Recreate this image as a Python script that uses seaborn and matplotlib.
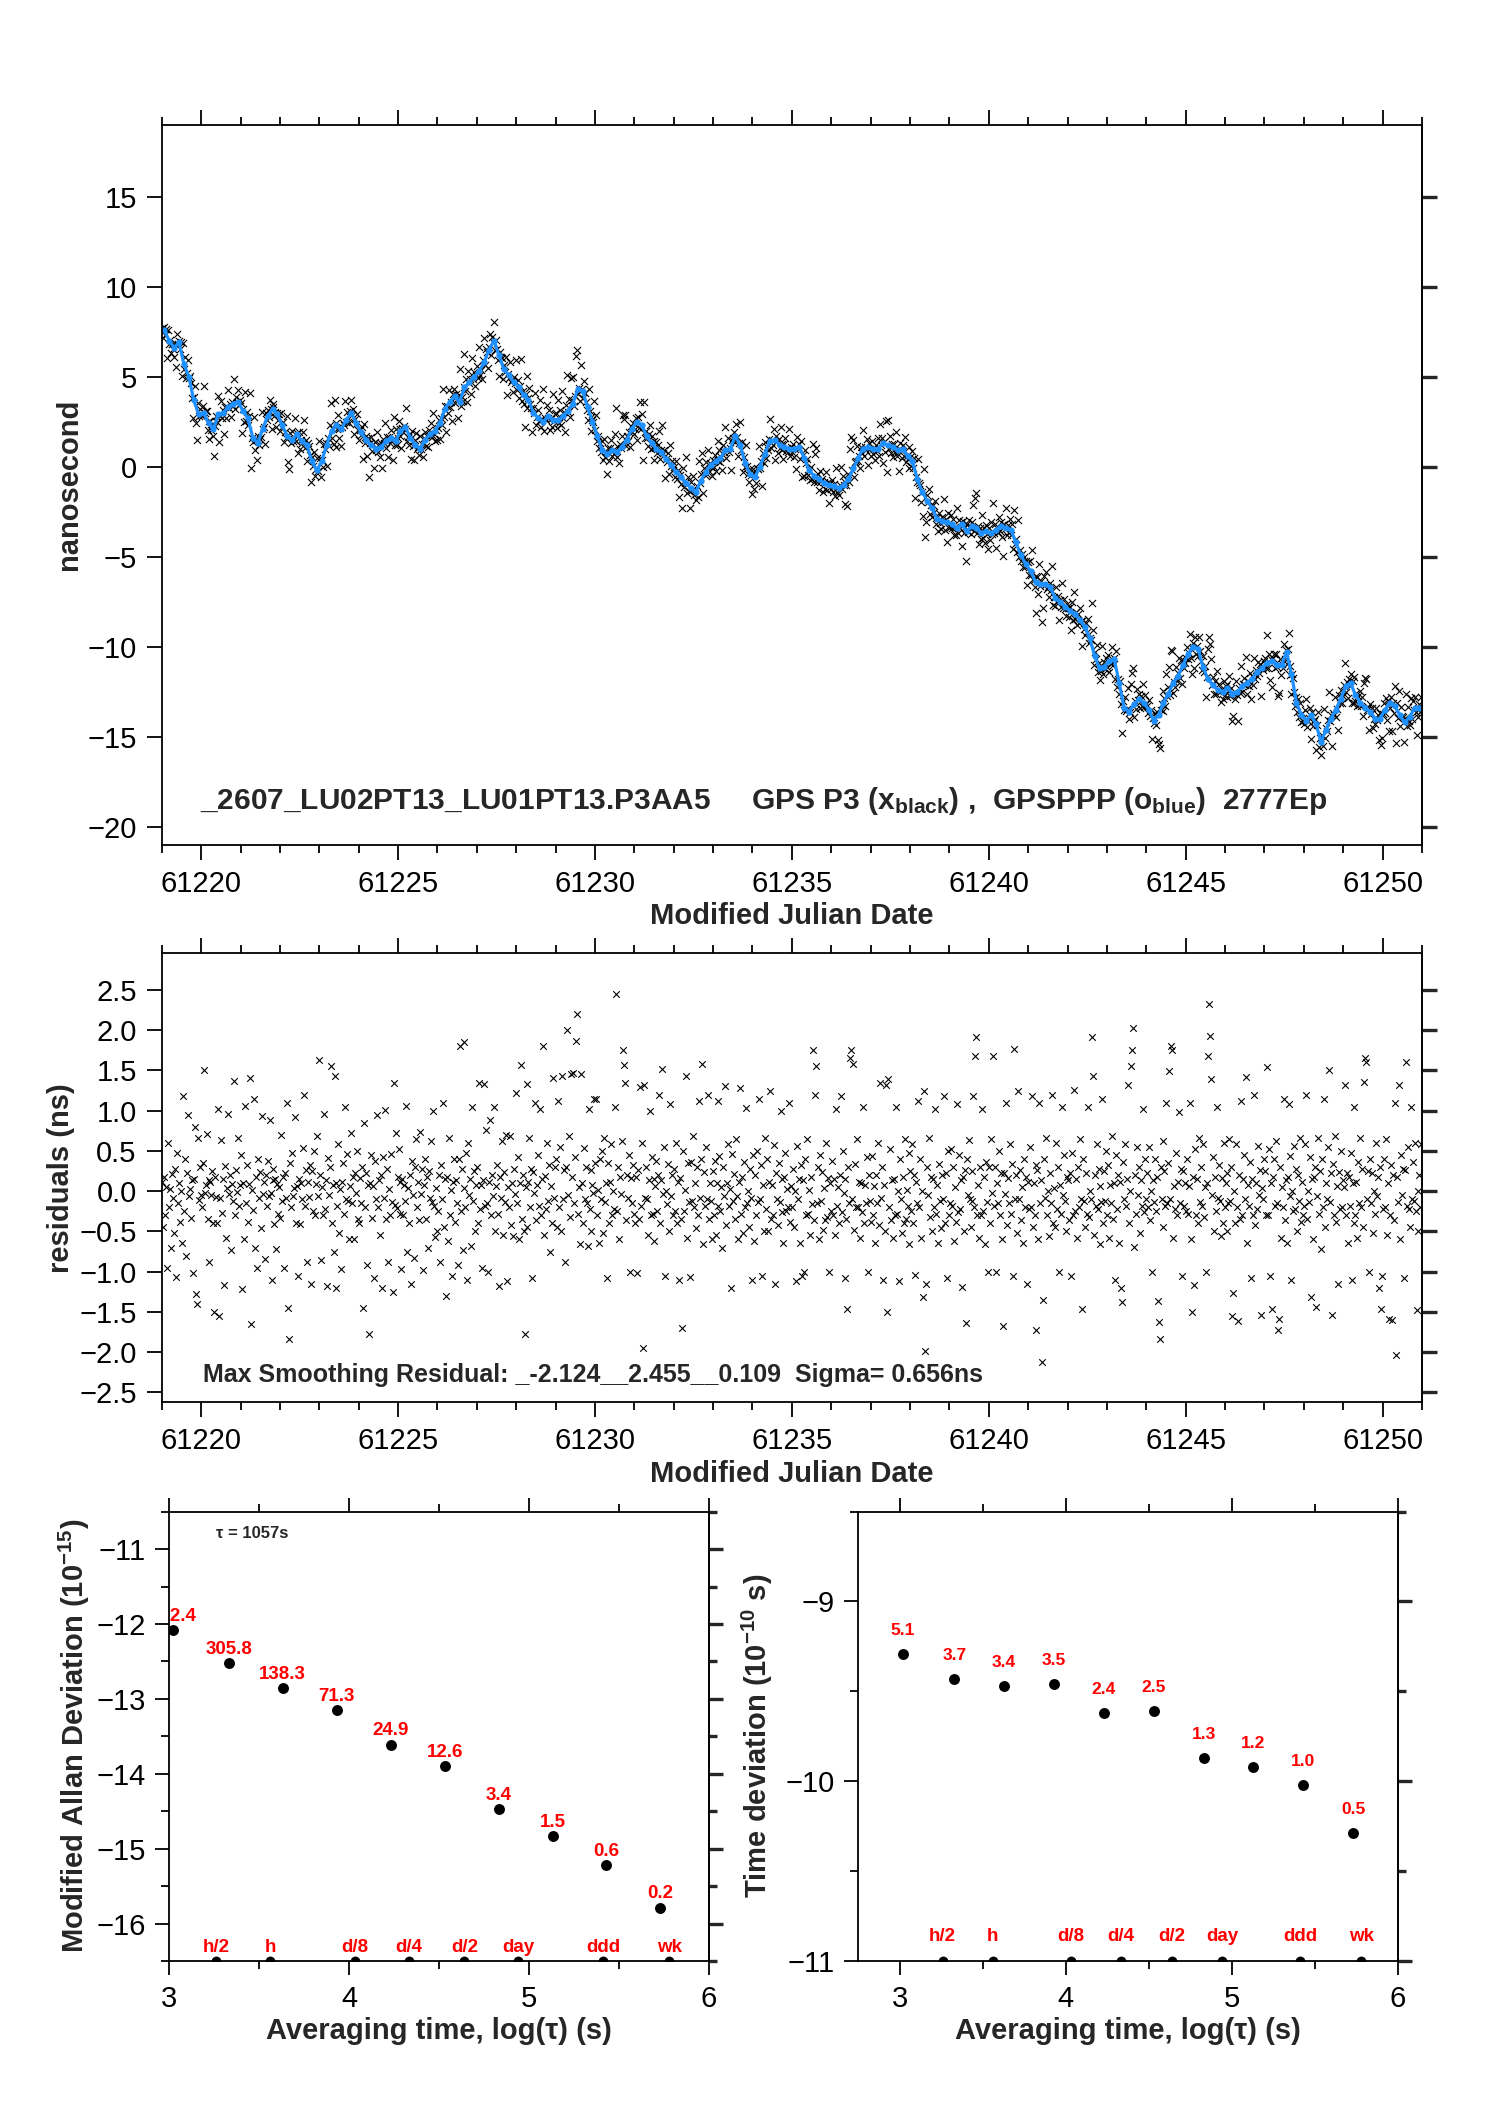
import numpy as np
import pandas as pd
import matplotlib
matplotlib.use("Agg")
import matplotlib.pyplot as plt
import seaborn as sns
from matplotlib.ticker import MultipleLocator, FuncFormatter

# ---------------------------------------------
# data
# ---------------------------------------------
mjd_start = 61219
mjd_ticks = [61220, 61225, 61230, 61235, 61240, 61245, 61250]
ns_ticks = [-20, -15, -10, -5, 0, 5, 10, 15]
res_ticks = [-2.5, -2.0, -1.5, -1.0, -0.5, 0.0, 0.5, 1.0, 1.5, 2.0, 2.5]

# GPSPPP (blue), ns, 8 readings per day
gpsppp = [
    7.6, 7.0, 6.6, 6.9, 5.7, 5.0, 3.7, 2.9,            # 61219
    3.0, 2.4, 2.1, 2.9, 3.0, 3.3, 3.5, 3.6,            # 61220
    3.1, 2.7, 1.6, 1.3, 2.1, 2.8, 3.2, 2.9,            # 61221
    2.3, 1.7, 1.5, 1.8, 1.4, 1.2, 0.3, -0.2,           # 61222
    0.3, 1.2, 2.0, 2.3, 2.1, 2.6, 3.0, 2.4,            # 61223
    1.9, 1.5, 1.2, 1.0, 1.1, 1.4, 1.6, 1.4,            # 61224
    2.0, 2.2, 1.6, 1.2, 1.0, 1.5, 1.8, 2.0,            # 61225
    2.4, 3.2, 3.6, 3.9, 3.6, 4.4, 4.7, 5.0,            # 61226
    5.3, 5.8, 6.5, 7.0, 6.2, 5.4, 5.1, 4.7,            # 61227
    4.4, 4.0, 3.7, 3.0, 2.7, 2.5, 2.8, 2.6,            # 61228
    2.6, 2.8, 3.1, 3.5, 4.3, 4.2, 3.3, 2.5,            # 61229
    1.7, 0.9, 0.7, 0.9, 0.8, 1.1, 1.5, 2.1,            # 61230
    2.5, 2.3, 1.7, 1.3, 1.0, 0.8, 0.4, 0.1,            # 61231
    -0.3, -0.6, -0.9, -1.2, -1.4, -0.8, -0.3, 0.1,     # 61232
    0.3, 0.5, 0.9, 1.0, 1.7, 1.2, 0.2, -0.4,           # 61233
    -0.6, 0.0, 0.7, 1.4, 1.5, 1.2, 1.1, 1.0,           # 61234
    1.0, 1.1, 0.5, -0.2, -0.5, -0.7, -0.9, -1.0,       # 61235
    -1.1, -1.2, -1.0, -0.7, -0.1, 0.5, 1.0, 1.1,       # 61236
    1.0, 1.0, 1.3, 1.2, 1.1, 0.9, 1.0, 0.6,            # 61237
    0.3, -0.7, -1.4, -1.9, -2.3, -2.9, -3.0, -3.1,     # 61238
    -3.2, -3.4, -3.2, -3.6, -3.3, -3.4, -3.7, -3.6,    # 61239
    -3.7, -3.5, -3.3, -3.4, -3.5, -4.2, -4.9, -5.4,    # 61240
    -5.8, -6.4, -6.5, -6.5, -6.7, -7.3, -7.5, -7.8,    # 61241
    -8.0, -8.2, -8.5, -8.9, -9.5, -10.5, -11.2, -11.1,     # 61242
    -10.8, -10.7, -12.0, -13.4, -13.6, -13.2, -12.9, -13.1,  # 61243
    -13.5, -14.1, -13.8, -13.1, -12.6, -12.0, -11.6, -11.0,  # 61244
    -10.4, -10.0, -10.1, -11.1, -11.8, -12.1, -12.4, -12.5,  # 61245
    -12.3, -12.6, -12.5, -12.2, -12.0, -11.8, -11.4, -11.2,  # 61246
    -10.9, -10.8, -11.0, -11.0, -10.3, -11.5, -13.1, -13.8,  # 61247
    -14.1, -13.8, -14.3, -15.3, -14.6, -14.0, -13.5, -12.9,  # 61248
    -12.2, -12.0, -12.7, -13.1, -13.4, -13.6, -14.0, -14.0,  # 61249
    -13.5, -13.1, -13.3, -13.8, -14.2, -13.9, -13.4, -13.4,  # 61250
]

# smoothing residuals of GPS P3 (black), in 0.01 ns, one row per day
resid_days = [
    "12 -45 18 -30 5 -95 60 -20 3 -70 21 -8 -52 28 -107 47 -15 10 -38 0 -64 118 -25 40 -80 22 95 -6 3 -33 14 -102 15 80 -128 -140 66 -11 30 -5",
    "-20 35 150 -2 8 71 -35 14 -88 12 -5 25 -40 -150 18 -7 -40 102 -155 -9 63 -27 15 -116 31 -58 4 96 -4 20 -73 9 -12 137 -30 26 -1 66 -18 8",
    "45 -122 10 -60 106 -15 32 -38 9 141 -165 2 -24 115 -70 18 -95 40 -8 24 -46 93 -3 11 -84 20 -19 37 -6 88 -2 -110 27 14 -41 15 -72 9 -28 5",
    "-33 70 -12 18 -95 22 -8 110 -145 -184 35 -20 48 -6 4 92 -39 7 -105 15 -41 10 -10 54 120 -18 26 -88 11 -7 33 -115 25 -25 50 -30 9 68 -6 163",
    "20 -85 5 -30 96 -22 14 -118 41 -5 30 155 -40 8 -75 143 -120 10 -18 58 -52 3 -97 11 35 -28 105 -10 46 -12 -60 7 72 -15 18 -60 23 -2 50 -35",
    "-40 16 -15 30 -145 85 -20 22 -92 8 -177 10 45 -33 7 -108 38 -10 95 -20 14 -55 20 -120 42 -8 101 -34 27 -88 3 -30 46 -14 -125 135 -17 72 -21 18",
    "52 -28 11 -97 15 -30 8 -12 106 -75 4 -40 20 -115 37 -5 -83 30 65 -20 11 -36 73 -4 28 -98 8 40 -35 18 -70 25 -9 62 -14 100 -18 -57 4 -50",
    "-25 20 -88 33 -10 110 -45 15 -130 18 -62 66 -30 2 -105 12 40 -38 14 -15 -92 40 180 -25 28 -73 4 185 -20 47 -110 60 -5 15 -68 104 -12 25 -50 8",
    "30 -40 135 -22 8 -95 14 133 -18 76 -15 -100 12 88 -30 20 -6 105 -50 6 33 -28 -118 17 -9 62 -55 24 -14 70 -112 5 -20 69 -42 10 -56 27 -3 122",
    "-15 42 -60 10 157 -35 20 -50 -178 5 133 -44 12 66 -20 28 -108 24 -2 110 -36 8 45 -18 102 -30 15 180 -54 19 -22 60 -12 33 -75 6 -40 141 -8 30",
    "40 -45 112 -20 55 -50 143 -10 26 -88 30 200 -5 68 -32 145 18 147 -15 42 187 220 -28 5 -66 145 10 -40 54 -10 30 -15 -68 102 -22 26 -50 8 -2 115",
    "35 115 -30 2 -65 40 -10 50 -52 66 -14 10 -108 35 -40 12 58 -30 0 -22 104 245 -25 30 -60 18 -4 62 175 157 135 -36 20 -8 45 -100 16 -15 32 -28",
    "-40 18 -102 26 -35 130 -18 60 -195 132 -8 30 -10 -55 14 100 -30 42 -28 15 -62 6 38 -25 20 120 -40 14 152 -4 55 -105 0 -16 34 -50 108 -6 20 -30",
    "28 -25 60 -40 12 -110 16 -35 -170 50 -25 2 143 -58 35 -14 -107 36 -12 68 -20 10 -46 30 -30 112 -8 40 158 -66 24 -18 55 -10 120 -35 10 -12 -60 25",
    "-30 37 -55 10 112 -18 44 -25 5 -70 30 -6 131 -42 10 58 -18 3 -120 46 -12 21 -34 65 -6 -60 12 128 -28 18 -52 36 -20 103 -15 0 -44 27 -8 -110",
    "45 -62 20 -30 50 -14 115 -10 33 -105 8 -50 66 -22 40 -50 12 124 -35 8 -30 57 -115 22 -10 -42 35 -14 100 -26 15 -65 18 48 -25 3 -20 110 -38 7",
    "-20 28 -45 0 -112 56 -10 15 -65 32 -105 14 -100 40 -30 65 -28 2 -54 18 -16 176 -36 120 155 -15 30 -60 45 -12 24 -48 4 -36 60 -32 16 -100 10 -25",
    "38 -30 15 -55 102 -18 5 -40 20 118 -26 50 -2 -108 15 -34 -146 30 -15 166 175 -10 158 -48 34 -20 65 -20 12 -58 10 -26 105 -40 8 -15 42 -100 20 -12",
    "-38 44 -30 6 -65 20 -15 60 -42 135 -8 30 -110 8 -50 132 -150 140 -20 52 -36 14 -58 15 -30 105 -28 0 -112 40 -10 -52 18 -40 65 -34 2 -18 48 -66",
    "25 -25 58 -40 20 -104 12 -15 112 -20 40 -58 0 -132 125 -198 -115 30 -5 66 -32 18 -50 15 -20 102 -28 8 -65 34 -12 -46 20 -10 118 -40 22 -108 50 -30",
    "-15 52 -18 30 -62 5 -38 108 -26 45 -22 14 -119 18 -50 26 -164 40 -5 64 -10 -45 25 -12 118 -20 168 191 -30 8 -58 30 -30 102 -25 18 -66 36 -14 -100",
    "30 -40 65 -2 168 -18 30 -100 10 -15 50 -30 22 -60 -167 22 -4 110 -42 16 -15 58 -28 34 -105 177 -10 20 -52 124 -10 26 -36 5 -65 40 -20 17 -115 12",
    "-22 55 -20 118 -45 10 -30 32 -172 26 -60 110 -15 14 -212 -135 40 -8 66 -30 0 -56 22 -15 120 -40 4 -44 60 -22 30 -100 8 -28 105 -5 45 -12 -50 18",
    "14 -36 22 -105 48 -30 126 -25 15 -58 30 -20 65 -10 -146 40 -12 -45 22 -28 104 -32 0 -10 192 143 -54 20 -18 58 -22 28 -66 6 -14 115 -40 25 -12 50",
    "-30 32 -58 8 -15 68 -34 10 -110 45 -22 20 -65 12 -120 -138 36 -10 58 -18 15 132 -40 0 155 175 203 -69 20 -28 55 -5 30 -52 14 -18 102 -26 40 -10",
    "22 -20 55 -36 0 -100 14 -14 40 -25 18 -136 -163 -184 30 -10 62 -45 25 -18 110 -15 35 149 -10 180 175 -58 6 -22 48 -30 12 98 -15 28 -105 25 -18 10",
    "-25 40 -28 6 110 -60 -150 18 -117 52 -30 15 -40 66 -14 30 -18 58 -32 5 -100 10 168 233 193 139 -5 42 -50 18 -25 104 -8 32 -12 -56 16 -40 60 -20",
    "10 -50 22 -15 65 -12 30 -155 -126 0 -40 58 -20 -161 20 -35 112 -30 15 45 -10 142 -65 8 -18 36 -108 15 -30 120 -42 10 -22 56 -5 26 -154 4 -10 40",
    "25 -30 154 -30 52 -105 10 -146 18 40 -18 62 -15 -172 -159 30 -58 5 -20 115 -36 14 -65 18 108 -6 44 -110 0 -25 56 -22 28 -50 20 -12 66 -38 12 -30",
    "-18 58 120 -35 0 -14 42 -132 15 -60 18 30 -144 -6 66 -28 25 -72 40 -20 115 -45 10 -10 55 151 -14 22 -154 34 -30 68 -38 6 -115 24 -22 50 -20 14",
    "5 132 -30 22 -65 18 -18 48 -110 10 -40 104 -30 12 -58 36 -15 66 -20 28 -45 136 165 161 -10 25 -100 40 -15 22 -52 0 -28 60 -6 18 -120 30 -146 -105",
    "-22 40 -20 65 -55 10 -159 -30 32 -160 20 -36 110 -204 18 -14 132 -60 45 -5 28 -108 26 160 -18 55 -22 -45 104 -10 36 -12 60 -25 -148 0 -50 20 -20 58",
]

# stability panels
log_tau = [3.02, 3.33, 3.63, 3.93, 4.23, 4.53, 4.83, 5.13, 5.43, 5.73]
mdev_log = [-12.08, -12.52, -12.86, -13.15, -13.61, -13.90, -14.47, -14.83, -15.22, -15.79]
mdev_lbl = ["832.4", "305.8", "138.3", "71.3", "24.9", "12.6", "3.4", "1.5", "0.6", "0.2"]
tdev_log = [-9.29, -9.43, -9.47, -9.46, -9.62, -9.61, -9.87, -9.92, -10.02, -10.29]
tdev_lbl = ["5.1", "3.7", "3.4", "3.5", "2.4", "2.5", "1.3", "1.2", "1.0", "0.5"]
mark_pos = [3.26, 3.56, 4.03, 4.33, 4.64, 4.94, 5.41, 5.78]
mark_lbl = ["h/2", "h", "d/8", "d/4", "d/2", "day", "ddd", "wk"]

title_txt = (r"_2607_LU02PT13_LU01PT13.P3AA5     GPS P3 (x$_{\mathbf{black}}$) ,  "
             r"GPSPPP (o$_{\mathbf{blue}}$)  2777Ep")
resid_txt = "Max Smoothing Residual: _-2.124__2.455__0.109  Sigma= 0.656ns"

# ---------------------------------------------
# build series
# ---------------------------------------------
blue = np.array(gpsppp)
blue_per_day = 8
t_blue = mjd_start + (np.arange(len(blue)) + 0.5) / blue_per_day

t_list, r_list, b_list = [], [], []
for d, row in enumerate(resid_days):
    vals = np.array(row.split(), dtype=float) / 100.0
    frac = (np.arange(len(vals)) + 0.5) / len(vals)
    slot = d * blue_per_day + (frac * blue_per_day).astype(int)
    t_list.append(mjd_start + d + frac)
    r_list.append(vals)
    b_list.append(blue[slot])
t_res = np.concatenate(t_list)
resid = np.concatenate(r_list)
black = np.concatenate(b_list) + resid

top_df = pd.DataFrame({"mjd": t_res, "ns": black, "res": resid})
blue_df = pd.DataFrame({"mjd": t_blue, "ns": blue})

# ---------------------------------------------
# style
# ---------------------------------------------
sns.set_style("ticks")
plt.rcParams["font.family"] = ["Liberation Sans", "DejaVu Sans"]
plt.rcParams["mathtext.fontset"] = "custom"
plt.rcParams["mathtext.rm"] = "Liberation Sans"
plt.rcParams["mathtext.bf"] = "Liberation Sans:bold"
plt.rcParams["mathtext.it"] = "Liberation Sans:italic"
plt.rcParams["axes.unicode_minus"] = True

FS = 21
LW = 1.3


def minus_fmt(fmt):
    def f(v, p):
        if abs(v) < 1e-9:
            v = 0.0
        return fmt.format(v).replace("-", "\u2212")
    return FuncFormatter(f)


def frame(ax, yticks, yminor=None, major=11, minor=5.5):
    for s in ax.spines.values():
        s.set_linewidth(LW)
        s.set_color("black")
    ax.set_yticks(yticks)
    if yminor:
        ax.yaxis.set_minor_locator(MultipleLocator(yminor))
    ax.tick_params(which="both", direction="out", top=True, right=False,
                   width=LW, labelsize=FS, colors="black")
    ax.tick_params(axis="x", which="both", pad=7)
    ax.tick_params(axis="y", which="both", pad=7)
    ax.tick_params(which="major", length=major)
    ax.tick_params(which="minor", length=minor)
    sec = ax.secondary_yaxis("right")
    sec.set_yticks(yticks)
    sec.set_yticklabels([])
    if yminor:
        sec.yaxis.set_minor_locator(MultipleLocator(yminor))
    sec.tick_params(which="both", direction="out", width=2.4)
    sec.tick_params(which="major", length=major)
    sec.tick_params(which="minor", length=minor)
    sec.spines["right"].set_linewidth(LW)


fig = plt.figure(figsize=(14.88, 21.05), dpi=100)
ax1 = fig.add_axes([0.1087, 0.5987, 0.8469, 0.3421])
ax2 = fig.add_axes([0.1087, 0.3338, 0.8469, 0.2133])
ax3 = fig.add_axes([0.1138, 0.0684, 0.3627, 0.2135])
ax4 = fig.add_axes([0.5766, 0.0684, 0.3629, 0.2135])

# ---- top: time series ----
sns.scatterplot(data=top_df, x="mjd", y="ns", marker="x", color="black",
                s=26, linewidth=0.8, legend=False, ax=ax1)
sns.lineplot(data=blue_df, x="mjd", y="ns", color="#1E90FF", linewidth=2.3,
             marker="o", markersize=4.5, markeredgewidth=0, sort=False,
             estimator=None, ax=ax1)
ax1.set_xlim(61219, 61251)
ax1.set_ylim(-21, 19)
frame(ax1, ns_ticks)
ax1.set_xticks(mjd_ticks)
ax1.set_xticklabels([str(t) for t in mjd_ticks])
ax1.xaxis.set_minor_locator(MultipleLocator(1))
ax1.set_xlabel("Modified Julian Date", fontsize=FS, fontweight="bold", labelpad=3)
ax1.set_ylabel("nanosecond", fontsize=FS, fontweight="bold", labelpad=3)
ax1.text(0.030, 0.049, title_txt, transform=ax1.transAxes, fontsize=21.5,
         fontweight="bold", ha="left", va="baseline")

# ---- middle: residuals ----
sns.scatterplot(data=top_df, x="mjd", y="res", marker="x", color="black",
                s=22, linewidth=0.8, legend=False, ax=ax2)
ax2.set_xlim(61219, 61251)
ax2.set_ylim(-2.624, 2.955)
frame(ax2, res_ticks)
ax2.yaxis.set_major_formatter(minus_fmt("{:.1f}"))
ax2.set_xticks(mjd_ticks)
ax2.set_xticklabels([str(t) for t in mjd_ticks])
ax2.xaxis.set_minor_locator(MultipleLocator(1))
ax2.set_xlabel("Modified Julian Date", fontsize=FS, fontweight="bold", labelpad=3)
ax2.set_ylabel("residuals (ns)", fontsize=FS, fontweight="bold", labelpad=3)
ax2.text(0.033, 0.046, resid_txt, transform=ax2.transAxes, fontsize=18,
         fontweight="bold", ha="left", va="baseline")

# ---- bottom left: modified Allan deviation ----
sns.scatterplot(x=log_tau, y=mdev_log, color="black", s=62, linewidth=0,
                legend=False, ax=ax3)
sns.scatterplot(x=mark_pos, y=[-16.5] * len(mark_pos), color="black", s=50,
                linewidth=0, legend=False, ax=ax3)
ax3.set_xlim(3, 6)
ax3.set_ylim(-16.5, -10.5)
frame(ax3, [-16, -15, -14, -13, -12, -11], yminor=0.5, major=10)
ax3.set_xticks([3, 4, 5, 6])
ax3.xaxis.set_minor_locator(MultipleLocator(0.5))
for x, y, lb in zip(log_tau, mdev_log, mdev_lbl):
    ax3.annotate(lb, (x, y), xytext=(0, 10), textcoords="offset points",
                 ha="center", va="center", color="red", fontsize=13.5,
                 fontweight="bold", clip_on=True)
for x, lb in zip(mark_pos, mark_lbl):
    ax3.annotate(lb, (x, -16.5), xytext=(0, 10), textcoords="offset points",
                 ha="center", va="center", color="red", fontsize=13.5,
                 fontweight="bold")
ax3.text(3.46, -10.79, "\u03c4 = 1057s", fontsize=12, fontweight="bold",
         ha="center", va="center")
ax3.set_xlabel("Averaging time, log(\u03c4) (s)", fontsize=FS, fontweight="bold", labelpad=3)
ax3.set_ylabel(r"Modified Allan Deviation (10$^{\mathbf{-15}}$)", fontsize=FS,
               fontweight="bold", labelpad=3)

# ---- bottom right: time deviation ----
sns.scatterplot(x=log_tau, y=tdev_log, color="black", s=62, linewidth=0,
                legend=False, ax=ax4)
sns.scatterplot(x=mark_pos, y=[-11] * len(mark_pos), color="black", s=50,
                linewidth=0, legend=False, ax=ax4)
ax4.set_xlim(2.75, 6)
ax4.set_ylim(-11, -8.5)
frame(ax4, [-11, -10, -9], yminor=0.5, major=10)
ax4.set_xticks([3, 4, 5, 6])
ax4.xaxis.set_minor_locator(MultipleLocator(0.5))
for x, y, lb in zip(log_tau, tdev_log, tdev_lbl):
    ax4.annotate(lb, (x, y), xytext=(0, 17), textcoords="offset points",
                 ha="center", va="center", color="red", fontsize=12.5,
                 fontweight="bold")
for x, lb in zip(mark_pos, mark_lbl):
    ax4.annotate(lb, (x, -11), xytext=(0, 18), textcoords="offset points",
                 ha="center", va="center", color="red", fontsize=13.5,
                 fontweight="bold")
ax4.set_xlabel("Averaging time, log(\u03c4) (s)", fontsize=FS, fontweight="bold", labelpad=3)
ax4.set_ylabel(r"Time deviation (10$^{\mathbf{-10}}$ s)", fontsize=FS,
               fontweight="bold", labelpad=7)

fig.savefig("out.png", dpi=100)
